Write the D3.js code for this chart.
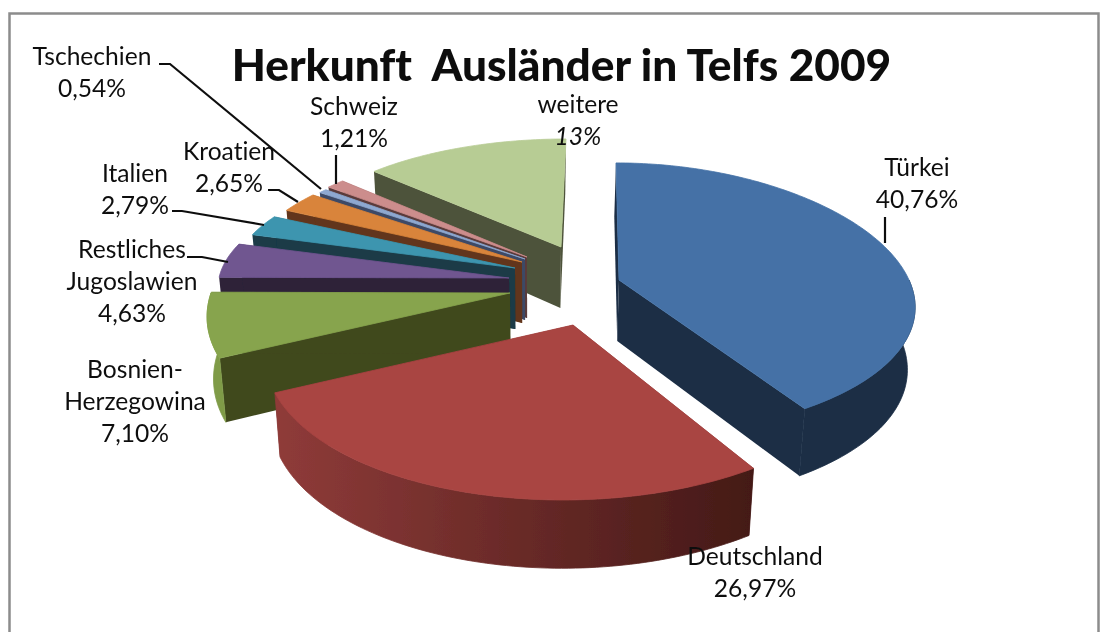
<!DOCTYPE html>
<html><head><meta charset="utf-8">
<script src="https://cdnjs.cloudflare.com/ajax/libs/d3/7.8.5/d3.min.js"></script>
<style>html,body{margin:0;padding:0;background:#fff;overflow:hidden}svg{display:block}text{font-family:Lato,"Open Sans",sans-serif;fill:#111;font-variant-ligatures:none}</style>
</head><body><svg id="c" width="1106" height="632"></svg>
<script>
const categories = ["Türkei","Deutschland","Bosnien-Herzegowina","Restliches Jugoslawien","Italien","Kroatien","Tschechien","Schweiz","weitere"];
const values = [40.76,26.97,7.10,4.63,2.79,2.65,0.54,1.21,13];
const valueLabels = ["40,76%","26,97%","7,10%","4,63%","2,79%","2,65%","0,54%","1,21%","13%"];
const topColors = ["#4471a6","#a94543","#87a44d","#6f5690","#3e95af","#d9843b","#8ea8d0","#cc8d8c","#b7cc94"];
const sideColors = ["#1b2d45","#5a2220","#40481f","#2d2238","#1a3a47","#62361a","#3d4a66","#5a3a3a","#4d523a"];

// per-slice placement of the exploded, perspective-projected pie
const geom = [
 {ax:619,ay:280,rx:290,ry:136.6,k:.143,kx:.2,skew:-3},
 {ax:573,ay:325,rx:300,ry:146.4,k:.195,skew:10},
 {ax:510,ay:293,rx:299,ry:148,k:.07,skew:28},
 {ax:509,ay:278,rx:290,ry:118,k:.07,skew:5},
 {ax:515,ay:268,rx:282,ry:116,k:.07,skew:5},
 {ax:522,ay:262,rx:276,ry:117,k:.07,skew:5},
 {ax:525,ay:259,rx:271,ry:116,k:.07,skew:5},
 {ax:527,ay:257,rx:270,ry:117,k:.07,skew:5},
 {ax:561,ay:247,rx:274,ry:116.4,k:.072,skew:5}
];
const drawOrder = [8,7,6,5,4,3,2,0,1];
const depth = 61, vanishX = 530;

const svg = d3.select("#c");
const defs = svg.append("defs");
const grad = defs.append("linearGradient").attr("id","redSide").attr("gradientUnits","userSpaceOnUse")
   .attr("x1",276).attr("x2",758).attr("y1",0).attr("y2",0);
grad.append("stop").attr("offset",0).attr("stop-color","#8f3b39");
grad.append("stop").attr("offset",1).attr("stop-color","#431916");
defs.append("filter").attr("id","soft").attr("x",0).attr("y",0).attr("width","100%").attr("height","100%")
   .append("feGaussianBlur").attr("stdDeviation",0.4);

const root = svg.append("g").attr("filter","url(#soft)");
root.append("rect").attr("width",1106).attr("height",632).attr("fill","#fff");
root.append("rect").attr("x",9.5).attr("y",13.5).attr("width",1089).attr("height",700)
   .attr("fill","#fff").attr("stroke","#8c8c8c").attr("stroke-width",2.5);

const arcs = d3.pie().sort(null).value(d=>d)(values);
const pt = (g,a)=>{const u=Math.sin(a),v=Math.cos(a),s=1-g.k*v,sx=1-(g.kx===undefined?g.k:g.kx)*v;
  return {x:g.ax+g.rx*u*sx+g.skew*v, y:g.ay-g.ry*v*s, v};};
const low = p=>({x:p.x+(vanishX-p.x)*.02, y:p.y+depth*(1-.12*p.v)});
const line = d3.line().x(d=>d.x).y(d=>d.y);
const sweep = (a0,a1)=>{const n=Math.max(2,Math.ceil((a1-a0)/.02));return d3.range(n+1).map(i=>a0+(a1-a0)*i/n);};
const apex = g=>({x:g.ax,y:g.ay,v:0});

const layer = root.append("g");
drawOrder.forEach(i=>{
  const g=geom[i],a=arcs[i],A=apex(g);
  const side=sideColors[i];
  [a.startAngle,a.endAngle].forEach(t=>{
    const P=pt(g,t);
    layer.append("path").attr("d",line([A,P,low(P),low(A)])+"Z").attr("fill",side);
  });
  const a0=Math.max(a.startAngle,Math.PI/2),a1=Math.min(a.endAngle,1.5*Math.PI);
  if(a1>a0){
    const ring=sweep(a0,a1).map(t=>pt(g,t));
    const fill=i===1?"url(#redSide)":i===2?"#7f9b47":side;
    layer.append("path").attr("d",line(ring.concat(ring.map(low).reverse()))+"Z").attr("fill",fill).attr("stroke",fill).attr("stroke-width",.8);
  }
  const top=[A].concat(sweep(a.startAngle,a.endAngle).map(t=>pt(g,t)));
  layer.append("path").attr("d",line(top)+"Z").attr("fill",topColors[i]).attr("stroke",topColors[i]).attr("stroke-width",.8);
});

// leader lines
const leaders = [
 [[159,64],[170,64],[321,189]],
 [[336,155],[336,184]],
 [[268,190],[279,190],[298,202]],
 [[172,211],[182,211],[264,225]],
 [[187,257],[202,257],[228,262]],
 [[885,217],[885,243]]
];
root.append("g").selectAll("path").data(leaders).join("path")
  .attr("d",d3.line()).attr("fill","none").attr("stroke","#111").attr("stroke-width",2.2);

// data labels: one entry per slice, lines split as in the chart
const labelLines = [["Türkei"],["Deutschland"],["Bosnien-","Herzegowina"],["Restliches","Jugoslawien"],["Italien"],["Kroatien"],["Tschechien"],["Schweiz"],["weitere"]];
const labelPos = [[917,167],[755,556],[135,369],[132,249],[135,173],[229,151],[92,56],[354,106],[578,104]];
const lh = 32, fs = 24.6;
values.forEach((_,i)=>{
  const lines=labelLines[i].concat([valueLabels[i]]);
  lines.forEach((t,j)=>{
    root.append("text").attr("x",labelPos[i][0]).attr("y",labelPos[i][1]+j*lh)
      .attr("dy","0.35em").attr("text-anchor","middle").attr("font-size",fs)
      .attr("font-style",i===8&&j===1?"italic":"normal").text(t);
  });
});

root.append("text").attr("x",561.5).attr("y",66).attr("dy","0.35em").attr("text-anchor","middle")
  .attr("font-size",44.2).attr("font-weight",900).style("white-space","pre").attr("fill","#000")
  .text("Herkunft  Ausländer in Telfs 2009");
</script></body></html>
